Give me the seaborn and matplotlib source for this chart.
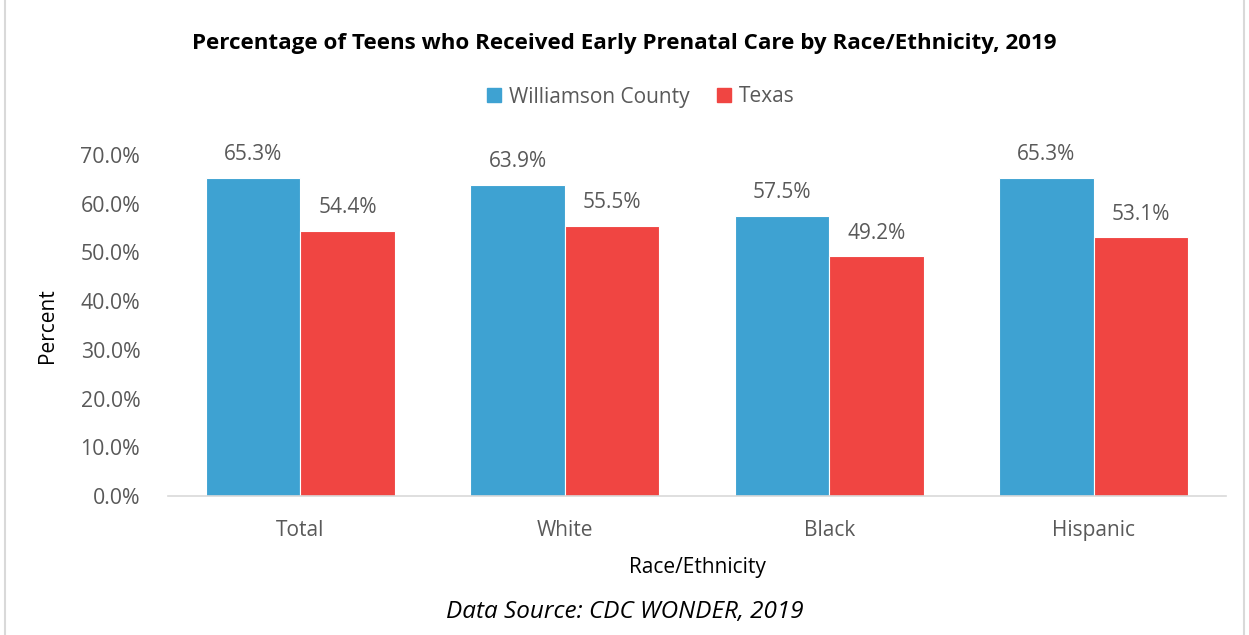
import matplotlib
matplotlib.use("Agg")
import matplotlib.pyplot as plt
import seaborn as sns
import pandas as pd
from matplotlib.patches import Rectangle

categories = ["Total", "White", "Black", "Hispanic"]
williamson = [65.3, 63.9, 57.5, 65.3]
texas = [54.4, 55.5, 49.2, 53.1]
series_names = ["Williamson County", "Texas"]
yticks = [0, 10, 20, 30, 40, 50, 60, 70]

df = pd.DataFrame({
    "cat": categories * 2,
    "val": williamson + texas,
    "series": [series_names[0]] * 4 + [series_names[1]] * 4,
})

sns.set_theme(style="white")
plt.rcParams["font.family"] = ["Open Sans", "DejaVu Sans"]
txt = "#595959"

fig = plt.figure(figsize=(12.49, 6.35), dpi=100)
ax = fig.add_axes([168/1249, 1-496/635, (1226-168)/1249, (496-155)/635])

sns.barplot(data=df, x="cat", y="val", hue="series", order=categories,
            hue_order=series_names, palette=["#3EA2D2", "#F04542"], saturation=1,
            width=0.715, ax=ax, legend=False, edgecolor="white", linewidth=0.8)

ax.set_ylim(0, 70)
ax.set_yticks(yticks)
ax.set_yticklabels([f"{v:.1f}%" for v in yticks], fontsize=15.3, color=txt)
ax.tick_params(axis="x", labelsize=15, labelcolor=txt, length=0, pad=17)
ax.tick_params(axis="y", length=0, pad=20)
for s in ["top", "right", "left"]:
    ax.spines[s].set_visible(False)
ax.spines["bottom"].set_color("#D9D9D9")
ax.spines["bottom"].set_linewidth(1.2)

for cont in ax.containers:
    ax.bar_label(cont, labels=[f"{v:.1f}%" for v in cont.datavalues],
                 padding=9, fontsize=15, color=txt)

ax.set_xlabel("Race/Ethnicity", fontsize=15, color="black", labelpad=12)
ax.set_ylabel("Percent", fontsize=15, color="black", labelpad=16)

fig.text(0.5, 1-44/635, "Percentage of Teens who Received Early Prenatal Care by Race/Ethnicity, 2019",
         ha="center", va="center", fontsize=16.1, fontweight="bold", color="black")

handles = [Rectangle((0, 0), 1, 1, color=c) for c in ["#3EA2D2", "#F04542"]]
fig.legend(handles, series_names, loc="center", bbox_to_anchor=(641/1249, 1-97/635),
           ncol=2, frameon=False, fontsize=15, labelcolor=txt,
           handlelength=0.65, handleheight=0.65, handletextpad=0.4, columnspacing=1.3)

fig.text(0.5, 1-612/635, "Data Source: CDC WONDER, 2019", ha="center", va="center",
         fontsize=17.5, fontstyle="italic", color="black")

fig.patches.append(Rectangle((5/1249, -0.01), 1-10/1249, 1.02 - 4/635, transform=fig.transFigure,
                             fill=False, edgecolor="#D9D9D9", linewidth=1.5))

fig.savefig("out.png", dpi=100)
